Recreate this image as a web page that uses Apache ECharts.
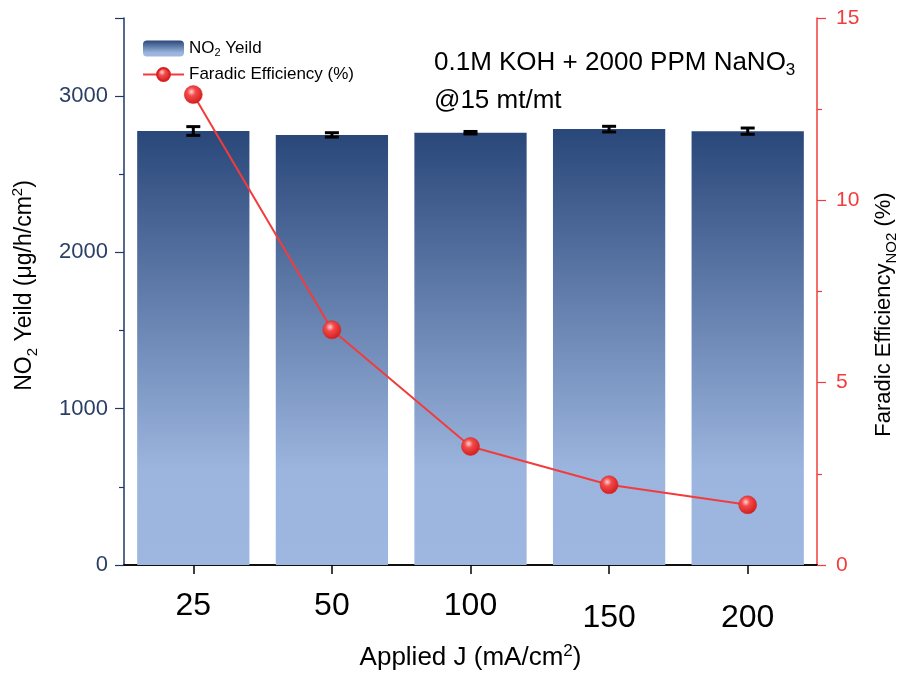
<!DOCTYPE html>
<html>
<head>
<meta charset="utf-8">
<script src="https://cdn.jsdelivr.net/npm/echarts@6/dist/echarts.min.js"></script>
<style>
  html, body { margin: 0; padding: 0; background: #fff; }
  #chart { width: 907px; height: 678px; }
</style>
</head>
<body>
<div id="chart"></div>
<script>
// Applied current density categories (mA/cm2)
const categories = ['25', '50', '100', '150', '200'];
// NO2 yield (ug/h/cm2) and its error bar half-widths
const yieldValues = [2777, 2752, 2766, 2789, 2776];
const yieldErrors = [28, 14, 8, 18, 20];
// Faradaic efficiency (%)
const efficiency = [12.9, 6.45, 3.25, 2.2, 1.65];
// Axis tick settings
const leftMax = 3500, leftStep = 1000;
const rightMax = 15, rightStep = 5;

const FONT = 'Arial, "Liberation Sans", sans-serif';
const NAVY = '#1f3864';
const RED = '#f23c3c';

const chart = echarts.init(document.getElementById('chart'), null, { renderer: 'canvas' });

const barGradient = new echarts.graphic.LinearGradient(0, 0, 0, 1, [
  { offset: 0, color: '#2a477a' },
  { offset: 0.78, color: '#9bb5de' },
  { offset: 1, color: '#9db7e0' }
]);

const ballColor = new echarts.graphic.RadialGradient(0.4, 0.35, 0.65, [
  { offset: 0, color: '#ffd0d0' },
  { offset: 0.35, color: '#f24a4a' },
  { offset: 1, color: '#d41e1e' }
]);

const errorData = yieldValues.map((v, i) => [i, v, yieldErrors[i]]);

const option = {
  animation: false,
  backgroundColor: '#fff',
  textStyle: { fontFamily: FONT },
  grid: { left: 124, right: 81, top: 18, bottom: 113, containLabel: false },
  legend: {
    orient: 'vertical',
    left: 137,
    top: 35,
    itemWidth: 41,
    itemHeight: 16,
    itemGap: 8,
    data: ['NO2 Yeild', 'Faradic Efficiency (%)'],
    formatter: function (name) {
      if (name === 'NO2 Yeild') return '{a|NO}{s|2}{a| Yeild}';
      return '{a|' + name + '}';
    },
    textStyle: {
      fontFamily: FONT,
      color: '#000',
      rich: {
        a: { fontSize: 17, fontFamily: FONT, color: '#000', lineHeight: 19 },
        s: { fontSize: 11, fontFamily: FONT, color: '#000', lineHeight: 19, verticalAlign: 'bottom', padding: [7, 0, 0, 0] }
      }
    }
  },
  xAxis: [{
    type: 'category',
    data: categories,
    position: 'bottom',
    axisLine: { show: true, lineStyle: { color: '#000', width: 1.5 } },
    axisTick: { show: true, alignWithLabel: true, inside: false, length: 9, lineStyle: { color: '#000', width: 1.5 } },
    axisLabel: {
      margin: 25,
      formatter: function (v, i) { return i >= 3 ? '{b|' + v + '}' : '{a|' + v + '}'; },
      rich: {
        a: { fontSize: 32, fontFamily: FONT, color: '#000' },
        b: { fontSize: 32, fontFamily: FONT, color: '#000', padding: [12, 0, 0, 0] }
      }
    },
    name: '{a|Applied J (mA/cm}{p|2}{a|)}',
    nameLocation: 'middle',
    nameGap: 78,
    nameTextStyle: {
      rich: {
        a: { fontSize: 26, fontFamily: FONT, color: '#000', lineHeight: 30 },
        p: { fontSize: 17, fontFamily: FONT, color: '#000', lineHeight: 30, verticalAlign: 'top', padding: [0, 0, 12, 0] }
      }
    },
    splitLine: { show: false }
  }, {
    type: 'category',
    data: categories,
    position: 'top',
    axisLine: { show: true, lineStyle: { color: '#000', width: 1.5 } },
    axisTick: { show: false },
    axisLabel: { show: false },
    splitLine: { show: false }
  }],
  yAxis: [{
    type: 'value',
    min: 0,
    max: leftMax,
    interval: leftStep,
    position: 'left',
    axisLine: { show: true, lineStyle: { color: NAVY, width: 1.5 } },
    axisTick: { show: true, inside: false, length: 9, lineStyle: { color: NAVY, width: 1.2 } },
    minorTick: { show: true, splitNumber: 2, length: 5, lineStyle: { color: NAVY, width: 1.2 } },
    axisLabel: {
      fontSize: 22,
      fontFamily: FONT,
      color: '#2b3f66',
      margin: 16,
      showMaxLabel: false,
      formatter: function (v) { return v === leftMax ? '' : String(v); }
    },
    splitLine: { show: false },
    name: '{a|NO}{s|2}{a| Yeild (μg/h/cm}{p|2}{a|)}',
    nameLocation: 'middle',
    nameGap: 84,
    nameRotate: 90,
    nameTextStyle: {
      padding: [0, 0, 0, 12],
      rich: {
        a: { fontSize: 23, fontFamily: FONT, color: '#000', lineHeight: 30 },
        s: { fontSize: 15, fontFamily: FONT, color: '#000', lineHeight: 30, verticalAlign: 'bottom', padding: [11, 0, 0, 0] },
        p: { fontSize: 15, fontFamily: FONT, color: '#000', lineHeight: 30, verticalAlign: 'top', padding: [0, 0, 11, 0] }
      }
    }
  }, {
    type: 'value',
    min: 0,
    max: rightMax,
    interval: rightStep,
    position: 'right',
    axisLine: { show: true, lineStyle: { color: RED, width: 1.5 } },
    axisTick: { show: true, inside: false, length: 9, lineStyle: { color: RED, width: 1.2 } },
    minorTick: { show: true, splitNumber: 2, length: 5, lineStyle: { color: RED, width: 1.2 } },
    axisLabel: { fontSize: 21, fontFamily: FONT, color: RED, margin: 19 },
    splitLine: { show: false },
    name: '{a|Faradic Efficiency}{s|NO2}{a| (%)}',
    nameLocation: 'middle',
    nameGap: 52,
    nameRotate: 90,
    nameTextStyle: {
      padding: [0, 46, 0, 0],
      rich: {
        a: { fontSize: 22, fontFamily: FONT, color: '#000', lineHeight: 30 },
        s: { fontSize: 15, fontFamily: FONT, color: '#000', lineHeight: 30, verticalAlign: 'bottom', padding: [11, 0, 0, 0] }
      }
    }
  }],
  graphic: [{
    type: 'text',
    left: 434,
    top: 50,
    style: {
      text: '{a|0.1M KOH + 2000 PPM NaNO}{s|3}',
      rich: {
        a: { fontSize: 26, fontFamily: FONT, fill: '#000', lineHeight: 32 },
        s: { fontSize: 17, fontFamily: FONT, fill: '#000', lineHeight: 32, verticalAlign: 'bottom', padding: [12, 0, 0, 0] }
      }
    }
  }, {
    type: 'text',
    left: 434,
    top: 88,
    style: { text: '@15 mt/mt', fontSize: 26, fontFamily: FONT, fill: '#000' }
  }],
  series: [{
    name: 'NO2 Yeild',
    type: 'bar',
    xAxisIndex: 0,
    yAxisIndex: 0,
    data: yieldValues,
    barWidth: '81%',
    itemStyle: { color: barGradient },
    z: 2
  }, {
    name: 'errors',
    type: 'custom',
    xAxisIndex: 0,
    yAxisIndex: 0,
    data: errorData,
    z: 3,
    renderItem: function (params, api) {
      const x = api.value(0);
      const v = api.value(1);
      const e = api.value(2);
      const hi = api.coord([x, v + e]);
      const lo = api.coord([x, v - e]);
      const half = 7;
      const st = { stroke: '#000', lineWidth: 3 };
      return {
        type: 'group',
        children: [
          { type: 'line', shape: { x1: hi[0], y1: hi[1], x2: lo[0], y2: lo[1] }, style: st },
          { type: 'line', shape: { x1: hi[0] - half, y1: hi[1], x2: hi[0] + half, y2: hi[1] }, style: st },
          { type: 'line', shape: { x1: lo[0] - half, y1: lo[1], x2: lo[0] + half, y2: lo[1] }, style: st }
        ]
      };
    }
  }, {
    name: 'Faradic Efficiency (%)',
    type: 'line',
    xAxisIndex: 0,
    yAxisIndex: 1,
    data: efficiency,
    symbol: 'circle',
    symbolSize: 18,
    lineStyle: { color: RED, width: 2 },
    itemStyle: { color: ballColor, borderColor: '#d82020', borderWidth: 0.5 },
    z: 5
  }]
};

chart.setOption(option);
</script>
</body>
</html>
